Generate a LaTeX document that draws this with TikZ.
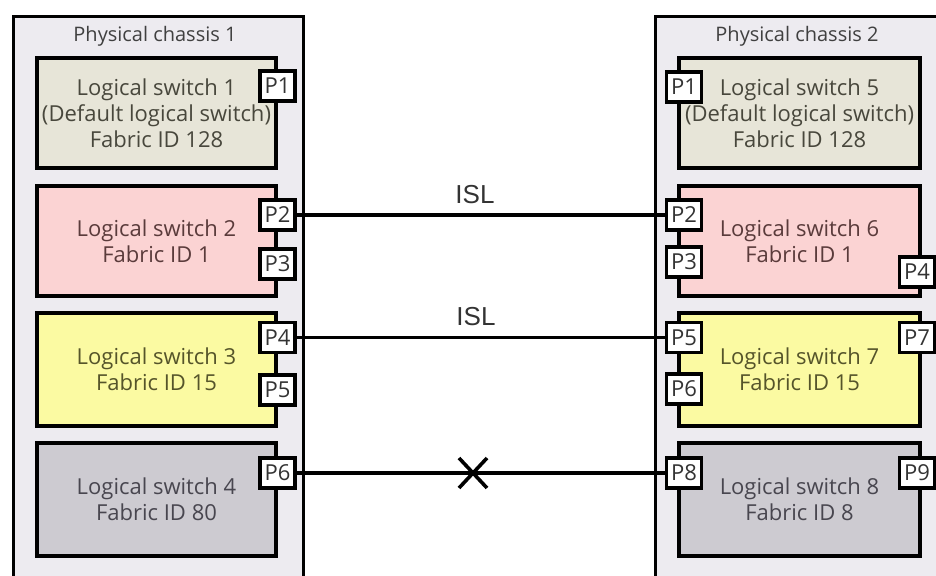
\documentclass[tikz,border=0pt]{standalone}
\usepackage{fontspec}
\setmainfont{Open Sans}
\newfontfamily\islfont{Liberation Sans}
\definecolor{chassisfill}{HTML}{EDEBF0}
\definecolor{defaultfill}{HTML}{E7E5D8}
\definecolor{defaulttext}{HTML}{48473C}
\definecolor{pinkfill}{HTML}{FBD3D3}
\definecolor{pinktext}{HTML}{5A3B3B}
\definecolor{yellowfill}{HTML}{FBFAA2}
\definecolor{yellowtext}{HTML}{55542A}
\definecolor{greyfill}{HTML}{CDCBD1}
\definecolor{greytext}{HTML}{48464F}
\begin{document}
\begin{tikzpicture}[x=1pt,y=-1pt,
  chassisbox/.style={draw=black, line width=3.3pt, fill=chassisfill, anchor=north west, inner sep=0pt},
  chassistitle/.style={font=\fontsize{20}{22}\selectfont, text=black!75},
  switchbox/.style={draw=black, line width=3.6pt, inner sep=0pt, align=center,
    font=\fontsize{22}{26}\selectfont},
  sw1/.style={switchbox, fill=defaultfill, text=defaulttext},
  sw2/.style={switchbox, fill=pinkfill, text=pinktext},
  sw3/.style={switchbox, fill=yellowfill, text=yellowtext},
  sw4/.style={switchbox, fill=greyfill, text=greytext},
  port/.style={draw=black, line width=3.4pt, fill=white, inner sep=0pt,
    minimum width=35pt, minimum height=30pt, text=black!80,
    font=\fontsize{22}{24}\selectfont},
  link/.style={line width=3.2pt},
  linklabel/.style={font=\islfont\fontsize{26}{28}\selectfont, text=black!80}
]
\useasboundingbox (0,0) rectangle (936,575);
\clip (0,0) rectangle (936,575);
\fill[white] (0,0) rectangle (936,575);

% chassis frames (running past the lower / right edge)
\node[chassisbox, minimum width=290pt, minimum height=600pt] (c1) at (12,15) {};
\node[chassisbox, minimum width=300pt, minimum height=600pt] (c2) at (654,15) {};
\node[chassistitle] (t1) at (155,36) {Physical chassis 1};
\node[chassistitle] (t2) at (797,36) {Physical chassis 2};

% logical switches, chassis 1
\node[sw1, minimum width=239pt, minimum height=110pt] (s1) at (156.5,113)
  {Logical switch 1\\(Default logical switch)\\Fabric ID 128};
\node[sw2, minimum width=239pt, minimum height=110pt] (s2) at (156.5,241)
  {Logical switch 2\\Fabric ID 1};
\node[sw3, minimum width=239pt, minimum height=113pt] (s3) at (156.5,369.5)
  {Logical switch 3\\Fabric ID 15};
\node[sw4, minimum width=239pt, minimum height=113pt] (s4) at (156.5,499.5)
  {Logical switch 4\\Fabric ID 80};

% logical switches, chassis 2
\node[sw1, minimum width=241pt, minimum height=110pt] (s5) at (799.5,113)
  {Logical switch 5\\(Default logical switch)\\Fabric ID 128};
\node[sw2, minimum width=241pt, minimum height=110pt] (s6) at (799.5,241)
  {Logical switch 6\\Fabric ID 1};
\node[sw3, minimum width=241pt, minimum height=113pt] (s7) at (799.5,369.5)
  {Logical switch 7\\Fabric ID 15};
\node[sw4, minimum width=241pt, minimum height=113pt] (s8) at (799.5,499.5)
  {Logical switch 8\\Fabric ID 8};

% ports, chassis 1
\node[port] (a1) at (277.5,86) {P1};
\node[port] (a2) at (277.5,215) {P2};
\node[port] (a3) at (277.5,264) {P3};
\node[port] (a4) at (277.5,337.5) {P4};
\node[port] (a5) at (277.5,390) {P5};
\node[port] (a6) at (277.5,473) {P6};

% ports, chassis 2
\node[port] (b1) at (684,87) {P1};
\node[port] (b2) at (684,215) {P2};
\node[port] (b3) at (684,262) {P3};
\node[port] (b4) at (917,272) {P4};
\node[port] (b5) at (684,337.5) {P5};
\node[port] (b6) at (684,389) {P6};
\node[port] (b7) at (917,337.5) {P7};
\node[port] (b8) at (684,473) {P8};
\node[port] (b9) at (917,473) {P9};

% inter-switch links
\draw[link] (a2.east) -- (b2.west);
\draw[link] (a4.east) -- (b5.west);
\draw[link] (a6.east) -- (b8.west);
\node[linklabel] (isl1) at (475,195) {ISL};
\node[linklabel] (isl2) at (476,317) {ISL};

% broken link mark
\coordinate (cut) at (473,473);
\draw[line width=3.6pt] ([shift={(-14,-15)}]cut) -- ([shift={(14,15)}]cut);
\draw[line width=3.6pt] ([shift={(-14,15)}]cut) -- ([shift={(14,-15)}]cut);
\end{tikzpicture}
\end{document}
